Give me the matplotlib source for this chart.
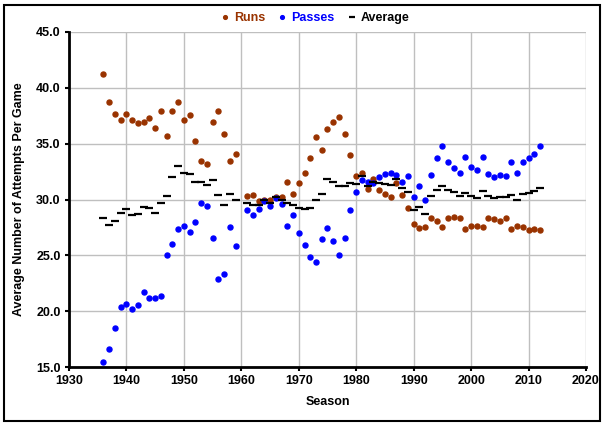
import matplotlib
matplotlib.use("Agg")
import matplotlib.pyplot as plt
from matplotlib.patches import Rectangle

# seasons (no 1960 season in the source data)
seasons = list(range(1936, 1960)) + list(range(1961, 2013))

runs = [41.27, 38.76, 37.66, 37.10, 37.63, 37.15, 36.83, 36.92, 37.33, 36.38,
        37.90, 35.69, 37.95, 38.70, 37.15, 37.54, 35.21, 33.45, 33.21, 36.92,
        37.90, 35.84, 33.42, 34.08,
        30.35, 30.38, 29.84, 29.96, 29.99, 30.23, 30.23, 31.60, 30.52, 31.45,
        32.40, 33.75, 35.57, 34.41, 36.29, 36.92, 37.42, 35.90, 33.96, 32.14,
        32.40, 30.92, 31.81, 30.88, 30.52, 30.23, 31.45, 30.38, 29.27, 27.84,
        27.48, 27.51, 28.35, 28.08, 27.57, 28.38, 28.47, 28.32, 27.39, 27.66,
        27.66, 27.57, 28.38, 28.23, 28.11, 28.32, 27.39, 27.66, 27.57, 27.27,
        27.39, 27.27]

passes = [15.48, 16.59, 18.53, 20.41, 20.62, 20.23, 20.53, 21.75, 21.21, 21.19,
          21.34, 25.06, 26.05, 27.39, 27.66, 27.07, 27.99, 29.72, 29.45, 26.58,
          22.91, 23.31, 27.54, 25.87,
          29.04, 28.65, 29.13, 29.84, 29.45, 30.11, 29.57, 27.66, 28.59, 26.98,
          25.90, 24.83, 24.38, 26.44, 27.48, 26.26, 25.06, 26.53, 29.04, 30.65,
          31.72, 31.54, 31.45, 31.99, 32.26, 32.35, 32.20, 31.60, 32.08, 30.23,
          31.19, 29.99, 32.23, 33.69, 34.82, 33.33, 32.80, 32.35, 33.84, 32.94,
          32.67, 33.84, 32.26, 31.99, 32.23, 32.08, 33.33, 32.35, 33.33, 33.72,
          34.08, 34.82]

average = [28.32, 27.72, 28.11, 28.77, 29.13, 28.65, 28.73, 29.31, 29.24, 28.77,
           29.66, 30.35, 32.02, 33.03, 32.40, 32.26, 31.60, 31.60, 31.33, 31.72,
           30.41, 29.54, 30.47, 29.96,
           29.66, 29.51, 29.51, 29.93, 29.72, 30.23, 29.93, 29.66, 29.54, 29.27,
           29.18, 29.27, 29.99, 30.47, 31.87, 31.60, 31.19, 31.19, 31.45, 31.42,
           32.08, 31.19, 31.60, 31.45, 31.39, 31.27, 31.81, 31.00, 30.65, 29.04,
           29.30, 28.74, 30.32, 30.86, 31.19, 30.86, 30.65, 30.32, 30.62, 30.32,
           30.11, 30.74, 30.32, 30.11, 30.20, 30.20, 30.38, 29.99, 30.47, 30.56,
           30.74, 31.00]

RUN_COLOR = "#993300"
PASS_COLOR = "#0000FF"

plt.rcParams["font.family"] = ["Liberation Sans", "DejaVu Sans"]
plt.rcParams["font.weight"] = "bold"
plt.rcParams["font.size"] = 9

fig = plt.figure(figsize=(6.05, 4.28), dpi=100)
ax = fig.add_axes([69 / 605, 1 - 367 / 428, (586 - 69) / 605, (367 - 32) / 428])

ax.plot(seasons, runs, linestyle="none", marker="o", ms=3.6, color=RUN_COLOR,
        label="Runs", zorder=3)
ax.plot(seasons, passes, linestyle="none", marker="o", ms=3.6, color=PASS_COLOR,
        label="Passes", zorder=3)
ax.plot(seasons, average, linestyle="none", marker="_", ms=5.5, mew=1.6,
        color="black", label="Average", zorder=3)

ax.set_xlim(1930, 2020)
ax.set_ylim(15, 45)
ax.set_xticks(range(1930, 2021, 10))
ax.set_yticks(range(15, 46, 5))
ax.set_yticklabels([f"{v:.1f}" for v in range(15, 46, 5)])
ax.grid(True, color="#BFBFBF", linewidth=1.0)
ax.set_axisbelow(True)

for side in ["top", "right"]:
    ax.spines[side].set_visible(False)
for side in ["left", "bottom"]:
    ax.spines[side].set_linewidth(2)
    ax.spines[side].set_color("black")
ax.tick_params(axis="both", direction="out", length=3, width=1.5, pad=3,
               labelsize=9)

ax.set_xlabel("Season", fontsize=9, fontweight="bold", labelpad=6)
ax.set_ylabel("Average Number of Attempts Per Game", fontsize=9,
              fontweight="bold", labelpad=8)

fig.legend(loc="center", bbox_to_anchor=(315 / 605, 1 - 18 / 428), ncol=3,
           frameon=False, handlelength=0.7, handletextpad=0.4,
           columnspacing=1.0, markerscale=0.75, labelcolor="linecolor",
           prop={"weight": "bold", "size": 9})

fig.add_artist(Rectangle((4 / 605, 1 - 421 / 428), 596 / 605, 416 / 428,
                         transform=fig.transFigure, fill=False,
                         edgecolor="black", linewidth=1.5))

fig.savefig("out.png", dpi=100)
